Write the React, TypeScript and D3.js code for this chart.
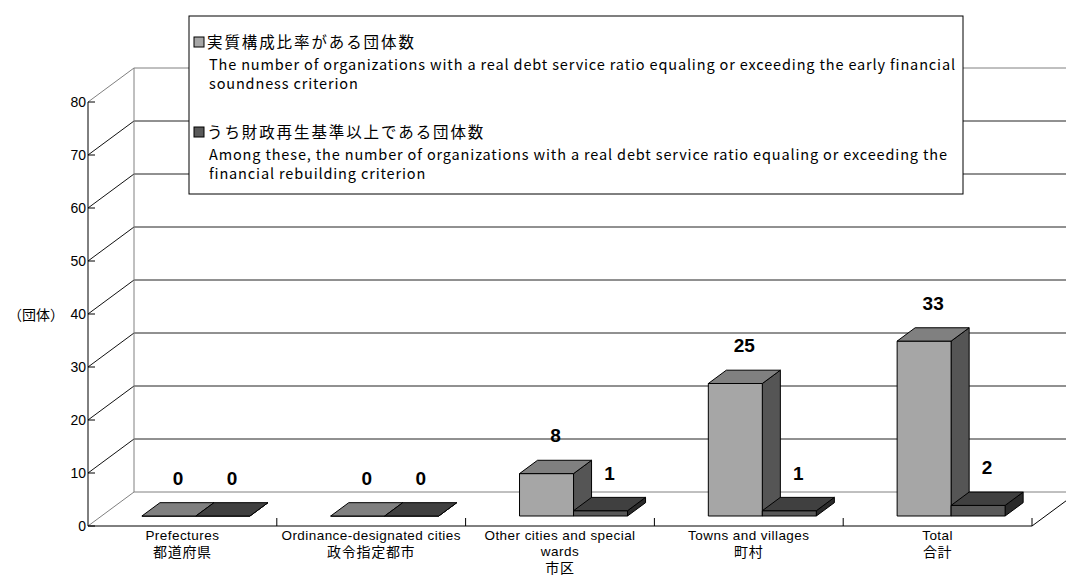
import React from "react";
import * as d3 from "d3";

const categoriesEn: string[][] = [
  ["Prefectures"],
  ["Ordinance-designated cities"],
  ["Other cities and special", "wards"],
  ["Towns and villages"],
  ["Total"],
];
const categoriesJa: string[] = ["都道府県", "政令指定都市", "市区", "町村", "合計"];
const seriesEarly: number[] = [0, 0, 8, 25, 33];
const seriesRebuild: number[] = [0, 0, 1, 1, 2];
const yTicks: number[] = [0, 10, 20, 30, 40, 50, 60, 70, 80];
const legendItems = [
  {
    ja: "実質構成比率がある団体数",
    en: [
      "The number of organizations with a real debt service ratio equaling or exceeding the early financial",
      "soundness criterion",
    ],
  },
  {
    ja: "うち財政再生基準以上である団体数",
    en: [
      "Among these, the number of organizations with a real debt service ratio equaling or exceeding the",
      "financial rebuilding criterion",
    ],
  },
];
const unitLabel = "（団体）";

const W = 1066;
const H = 577;
const X0 = 88;
const X1 = 1032;
const Y0 = 526;
const Y1 = 102;
const DX = 46;
const DY = 34;
const D1 = 0.294;
const D2 = 0.686;

const FONT = "'Liberation Sans', Arial, sans-serif";
const JFONT = "'Noto Sans CJK JP', sans-serif";

export default function App() {
  const idx = categoriesJa.map((_, i) => String(i));
  const x = d3.scaleBand<string>().domain(idx).range([X0, X1]).padding(0);
  const y = d3.scaleLinear().domain([0, 80]).range([Y0, Y1]);
  const bw = x.bandwidth() * 0.286;

  const P = (px: number, v: number, d: number): [number, number] => [px + DX * d, y(v) - DY * d];
  const poly = (pts: [number, number][]) => pts.map((p) => p.join(",")).join(" ");

  const bar = (x0: number, x1: number, v: number, cols: string[], key: string) => {
    const front = poly([P(x0, 0, D1), P(x1, 0, D1), P(x1, v, D1), P(x0, v, D1)]);
    const top = poly([P(x0, v, D1), P(x1, v, D1), P(x1, v, D2), P(x0, v, D2)]);
    const side = poly([P(x1, 0, D1), P(x1, v, D1), P(x1, v, D2), P(x1, 0, D2)]);
    return (
      <g key={key} stroke="#000" strokeWidth={1} strokeLinejoin="round">
        <polygon points={side} fill={cols[2]} />
        <polygon points={front} fill={cols[0]} />
        <polygon points={top} fill={cols[1]} />
      </g>
    );
  };

  const lightCols = ["#a6a6a6", "#808080", "#555555"];
  const darkCols = ["#595959", "#404040", "#2a2a2a"];

  const wallRight = X1 + DX;

  return (
    <svg width={W} height={H} style={{ position: "absolute", left: 0, top: 0, background: "#fff" }}>
      {/* back wall gridlines */}
      {yTicks.map((v) => {
        const gray = v === 0 || v === 80;
        return (
          <g key={"g" + v}>
            <line x1={X0 + DX} x2={wallRight} y1={y(v) - DY} y2={y(v) - DY} stroke={gray ? "#808080" : "#222"} strokeWidth={1} />
            <line x1={X0} x2={X0 + DX} y1={y(v)} y2={y(v) - DY} stroke={gray ? "#808080" : "#111"} strokeWidth={1} />
          </g>
        );
      })}
      <line x1={X0 + DX} x2={X0 + DX} y1={y(80) - DY} y2={y(0) - DY} stroke="#808080" />
      {/* floor */}
      <line x1={X0} x2={X1} y1={Y0} y2={Y0} stroke="#000" />
      <line x1={X1} x2={X1 + DX} y1={Y0} y2={Y0 - DY} stroke="#000" />
      {/* front axis */}
      <line x1={X0} x2={X0} y1={y(80)} y2={Y0} stroke="#000" />
      {yTicks.map((v) => (
        <g key={"t" + v}>
          <line x1={X0} x2={X0 + 7} y1={y(v)} y2={y(v)} stroke="#000" />
          <text x={X0 - 2} y={y(v)} textAnchor="end" dominantBaseline="central" fontFamily={FONT} fontSize={14} fill="#000">
            {v}
          </text>
        </g>
      ))}
      <text x={36} y={314} textAnchor="middle" dominantBaseline="central" fontFamily={JFONT} fontSize={14} fill="#000">
        {unitLabel}
      </text>
      {/* category ticks */}
      {idx.map((k) => {
        const xe = (x(k) as number) + x.bandwidth();
        return <line key={"ct" + k} x1={xe} x2={xe} y1={Y0} y2={Y0 - 8} stroke="#000" />;
      })}
      {/* bars */}
      {idx.map((k, i) => {
        const c = (x(k) as number) + x.bandwidth() / 2;
        return (
          <g key={"b" + k}>
            {bar(c - bw, c, seriesEarly[i], lightCols, "l" + k)}
            {bar(c, c + bw, seriesRebuild[i], darkCols, "d" + k)}
          </g>
        );
      })}
      {/* value labels */}
      {idx.map((k, i) => {
        const c = (x(k) as number) + x.bandwidth() / 2;
        const dm = (D1 + D2) / 2;
        const vals = [
          { v: seriesEarly[i], xc: c - bw / 2 },
          { v: seriesRebuild[i], xc: c + bw / 2 },
        ];
        return vals.map((o, j) => {
          const [lx, ly] = P(o.xc, o.v, dm);
          return (
            <text key={"vl" + k + j} x={lx} y={ly - 31} textAnchor="middle" dominantBaseline="central" fontFamily={FONT} fontWeight="bold" fontSize={19} fill="#000">
              {o.v}
            </text>
          );
        });
      })}
      {/* category labels */}
      {idx.map((k, i) => {
        const c = (x(k) as number) + x.bandwidth() / 2;
        const lines = [...categoriesEn[i].map((t) => ({ t, ja: false })), { t: categoriesJa[i], ja: true }];
        return (
          <g key={"cl" + k}>
            {lines.map((l, j) => (
              <text key={j} x={c} y={535 + j * 16} textAnchor="middle" dominantBaseline="central" fontFamily={l.ja ? JFONT : FONT} fontSize={l.ja ? 14 : 13.5} letterSpacing={l.ja ? 0.7 : 0.45} fill="#000">
                {l.t}
              </text>
            ))}
          </g>
        );
      })}
      {/* legend */}
      <rect x={189} y={16} width={774} height={178} fill="#fff" stroke="#000" strokeWidth={1} />
      {legendItems.map((it, i) => {
        const base = 41 + i * 90;
        return (
          <g key={"lg" + i}>
            <rect x={194} y={base - 4} width={10} height={10} fill={i === 0 ? lightCols[0] : darkCols[0]} stroke="#000" strokeWidth={1} />
            <text x={207} y={base} dominantBaseline="central" fontFamily={JFONT} fontSize={15.5} letterSpacing={1.9} fill="#000">
              {it.ja}
            </text>
            {it.en.map((t, j) => (
              <text key={j} x={209} y={base + 22 + j * 19} dominantBaseline="central" fontFamily={JFONT} fontSize={14.5} letterSpacing={0.85} fill="#000">
                {t}
              </text>
            ))}
          </g>
        );
      })}
    </svg>
  );
}
